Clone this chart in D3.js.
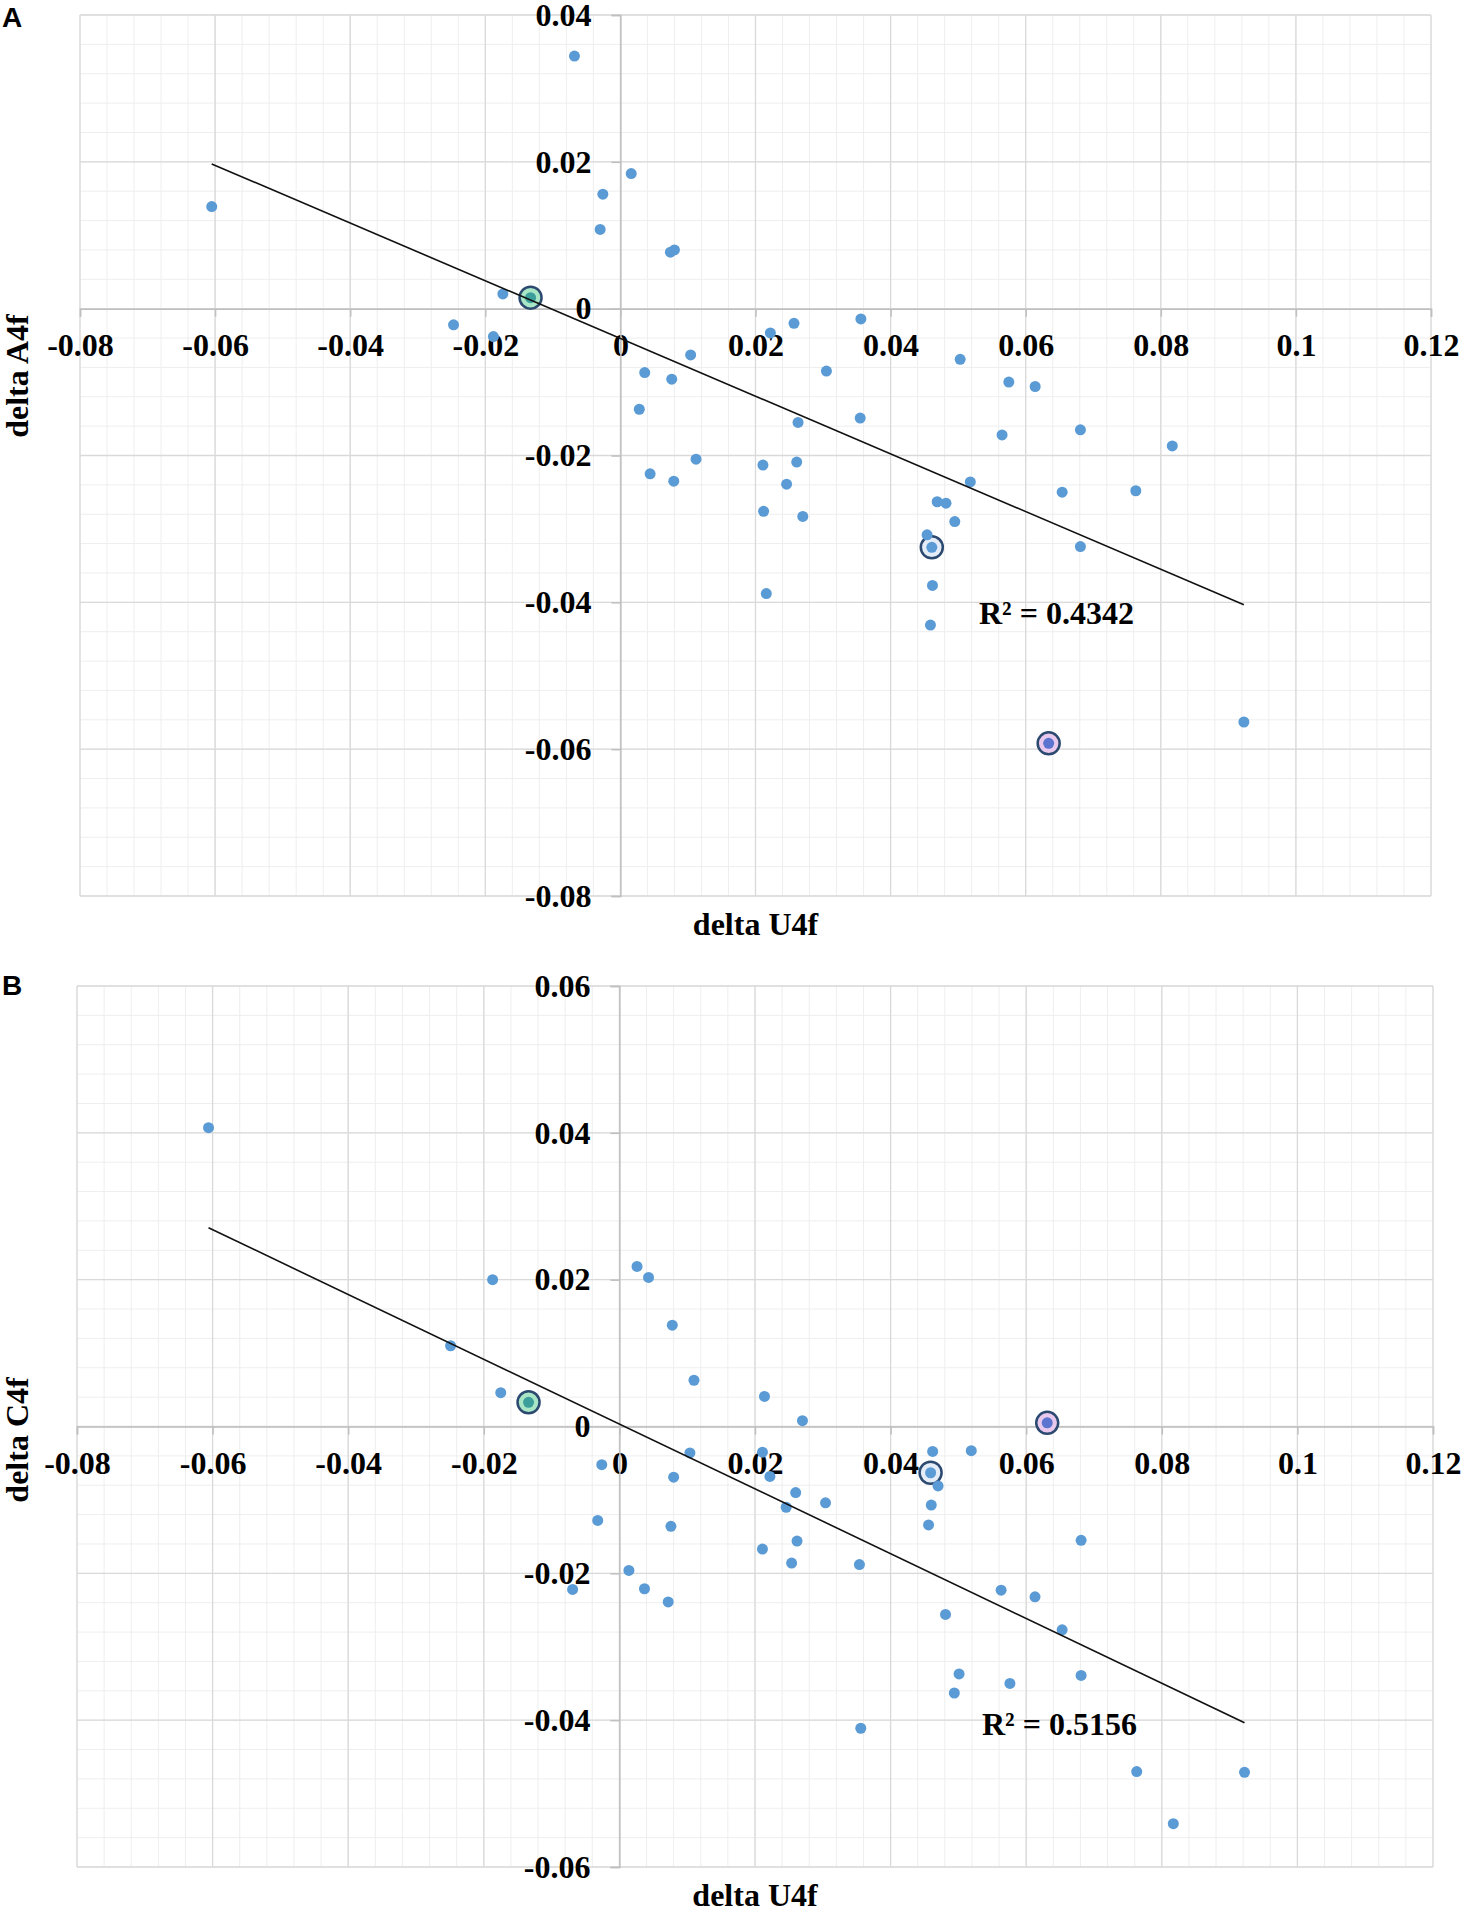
<!DOCTYPE html>
<html>
<head>
<meta charset="utf-8">
<script src="https://cdn.jsdelivr.net/npm/d3@7"></script>
<style>
    body { margin: 0; background: #fff; }
    svg { display: block; }
</style>
</head>
<body>
<div id="chart"></div>
<script>
// panel A: delta U4f vs delta A4f
const u4fA = [-0.0605, -0.0247, -0.0188, -0.0174, -0.0133, -0.0068, 0.0016, -0.0026, -0.0030, 0.0074,
    0.0080, 0.0222, 0.0257, 0.0356, 0.0104, 0.0036, 0.0076, 0.0305, 0.0503, 0.0575,
    0.0614, 0.0028, 0.0044, 0.0079, 0.0112, 0.0263, 0.0355, 0.0211, 0.0261, 0.0246,
    0.0212, 0.0270, 0.0216, 0.0565, 0.0681, 0.0817, 0.0518, 0.0654, 0.0763, 0.0469,
    0.0482, 0.0495, 0.0454, 0.0461, 0.0681, 0.0462, 0.0459, 0.0634, 0.0923];
const a4f = [0.0139, -0.0022, -0.0038, 0.0020, 0.0015, 0.0344, 0.0184, 0.0156, 0.0108, 0.0077,
    0.0080, -0.0033, -0.0020, -0.0014, -0.0063, -0.0087, -0.0096, -0.0085, -0.0069, -0.0100,
    -0.0106, -0.0137, -0.0225, -0.0235, -0.0205, -0.0155, -0.0149, -0.0213, -0.0209, -0.0239,
    -0.0276, -0.0283, -0.0388, -0.0172, -0.0165, -0.0187, -0.0236, -0.0250, -0.0248, -0.0263,
    -0.0265, -0.0290, -0.0308, -0.0325, -0.0324, -0.0377, -0.0431, -0.0592, -0.0563];

// panel B: delta U4f vs delta C4f
const u4fB = [-0.0606, -0.0187, -0.0249, -0.0175, -0.0134, 0.0026, 0.0043, 0.0078, 0.0110, 0.0214,
    0.0270, 0.0631, -0.0026, 0.0080, 0.0104, -0.0032, 0.0076, 0.0014, -0.0069, 0.0037,
    0.0072, 0.0211, 0.0222, 0.0260, 0.0304, 0.0246, 0.0262, 0.0211, 0.0254, 0.0354,
    0.0462, 0.0519, 0.0459, 0.0470, 0.0460, 0.0456, 0.0681, 0.0563, 0.0613, 0.0481,
    0.0653, 0.0501, 0.0576, 0.0681, 0.0494, 0.0356, 0.0763, 0.0922, 0.0817];
const c4f = [0.0407, 0.0200, 0.0110, 0.0046, 0.0033, 0.0218, 0.0203, 0.0138, 0.0063, 0.0041,
    0.0008, 0.0005, -0.0052, -0.0069, -0.0036, -0.0128, -0.0136, -0.0196, -0.0222, -0.0221,
    -0.0239, -0.0035, -0.0068, -0.0090, -0.0104, -0.0110, -0.0156, -0.0167, -0.0186, -0.0188,
    -0.0034, -0.0033, -0.0063, -0.0081, -0.0107, -0.0134, -0.0155, -0.0223, -0.0232, -0.0256,
    -0.0277, -0.0337, -0.0350, -0.0339, -0.0363, -0.0411, -0.0470, -0.0471, -0.0541];

// circled samples: green, blue, pink
const highlightA = [4, 43, 47];
const highlightB = [4, 32, 11];
const ringFill = ['#a9e6c6', '#e4ecf8', '#e8c8ec'];
const ringDot = ['#3c9f9c', '#5b9bd5', '#5a74cf'];

const xTickValues = [-0.08, -0.06, -0.04, -0.02, 0, 0.02, 0.04, 0.06, 0.08, 0.1, 0.12];
const yTicksA = [-0.08, -0.06, -0.04, -0.02, 0, 0.02, 0.04];
const yTicksB = [-0.06, -0.04, -0.02, 0, 0.02, 0.04, 0.06];
const r2Labels = ['R² = 0.4342', 'R² = 0.5156'];

const W = 1464, H = 1913;
const SERIF = "'Liberation Serif', 'Times New Roman', serif";

const svg = d3.select('#chart').append('svg')
    .attr('width', W)
    .attr('height', H);

function fmt(d) {
    return d === 0 ? '0' : String(+d.toFixed(2));
}

function minorTicks(lo, hi, step) {
    let n = Math.round((hi - lo) / step);
    return d3.range(n + 1).map(i => +(lo + i * step).toFixed(4));
}

function regression(xs, ys) {
    let mx = d3.mean(xs), my = d3.mean(ys);
    let sxy = d3.sum(xs, (d, i) => (d - mx) * (ys[i] - my));
    let sxx = d3.sum(xs, d => (d - mx) * (d - mx));
    let slope = sxy / sxx;
    return { slope: slope, intercept: my - slope * mx };
}

function drawPanel(cfg) {
    let x = d3.scaleLinear().domain([-0.08, 0.12]).range([cfg.left, cfg.right]);
    let y = d3.scaleLinear().domain(cfg.yDomain).range([cfg.bottom, cfg.top]);
    let g = svg.append('g');

    // minor grid
    g.append('g').selectAll('line.mx')
        .data(minorTicks(-0.08, 0.12, 0.004))
        .enter().append('line')
        .attr('x1', d => x(d)).attr('x2', d => x(d))
        .attr('y1', cfg.top).attr('y2', cfg.bottom)
        .attr('stroke', '#eeeeee').attr('stroke-width', 1);
    g.append('g').selectAll('line.my')
        .data(minorTicks(cfg.yDomain[0], cfg.yDomain[1], 0.004))
        .enter().append('line')
        .attr('y1', d => y(d)).attr('y2', d => y(d))
        .attr('x1', cfg.left).attr('x2', cfg.right)
        .attr('stroke', '#eeeeee').attr('stroke-width', 1);

    // major grid
    g.append('g').selectAll('line')
        .data(xTickValues)
        .enter().append('line')
        .attr('x1', d => x(d)).attr('x2', d => x(d))
        .attr('y1', cfg.top).attr('y2', cfg.bottom)
        .attr('stroke', '#d9d9d9').attr('stroke-width', 1.3);
    g.append('g').selectAll('line')
        .data(cfg.yTicks)
        .enter().append('line')
        .attr('y1', d => y(d)).attr('y2', d => y(d))
        .attr('x1', cfg.left).attr('x2', cfg.right)
        .attr('stroke', '#d9d9d9').attr('stroke-width', 1.3);

    // axes through zero
    let xAxis = g.append('g')
        .attr('transform', `translate(0,${y(0)})`)
        .call(d3.axisBottom(x).tickValues(xTickValues).tickFormat(fmt).tickSize(8).tickPadding(17));
    let yAxis = g.append('g')
        .attr('transform', `translate(${x(0)},0)`)
        .call(d3.axisLeft(y).tickValues(cfg.yTicks).tickFormat(fmt).tickSize(9).tickPadding(20));
    [xAxis, yAxis].forEach(a => {
        a.select('.domain').attr('stroke', '#bfbfbf').attr('stroke-width', 1.5);
        a.selectAll('.tick line').attr('stroke', '#bfbfbf').attr('stroke-width', 1.5);
        a.selectAll('.tick text')
            .attr('fill', '#000')
            .style('font-family', SERIF)
            .style('font-weight', 'bold')
            .style('font-size', '32px');
    });

    let pts = cfg.xs.map((d, i) => ({ x: d, y: cfg.ys[i], i: i }));

    // rings behind circled samples
    g.append('g').selectAll('circle')
        .data(cfg.highlight)
        .enter().append('circle')
        .attr('cx', d => x(cfg.xs[d]))
        .attr('cy', d => y(cfg.ys[d]))
        .attr('r', 11)
        .attr('fill', (d, k) => ringFill[k])
        .attr('stroke', '#2c4a70')
        .attr('stroke-width', 2.5);

    g.append('g').selectAll('circle')
        .data(pts)
        .enter().append('circle')
        .attr('cx', d => x(d.x))
        .attr('cy', d => y(d.y))
        .attr('r', 5.5)
        .attr('fill', d => {
            let k = cfg.highlight.indexOf(d.i);
            return k < 0 ? '#5b9bd5' : ringDot[k];
        });

    // linear trend line across the data range
    let fit = regression(cfg.xs, cfg.ys);
    let ext = d3.extent(cfg.xs);
    g.append('line')
        .attr('x1', x(ext[0])).attr('y1', y(fit.intercept + fit.slope * ext[0]))
        .attr('x2', x(ext[1])).attr('y2', y(fit.intercept + fit.slope * ext[1]))
        .attr('stroke', '#111').attr('stroke-width', 1.6);

    g.append('text')
        .attr('x', cfg.r2x).attr('y', cfg.r2y)
        .style('font-family', SERIF).style('font-weight', 'bold').style('font-size', '32px')
        .text(cfg.r2);

    // axis titles
    g.append('text')
        .attr('x', (cfg.left + cfg.right) / 2).attr('y', cfg.xTitleY)
        .attr('text-anchor', 'middle')
        .style('font-family', SERIF).style('font-weight', 'bold').style('font-size', '32px')
        .text('delta U4f');
    g.append('text')
        .attr('transform', `translate(28,${cfg.yTitleY}) rotate(-90)`)
        .attr('text-anchor', 'middle')
        .style('font-family', SERIF).style('font-weight', 'bold').style('font-size', '32px')
        .text(cfg.yTitle);

    g.append('text')
        .attr('x', 2).attr('y', cfg.letterY)
        .style('font-family', "'Liberation Sans', Arial, sans-serif")
        .style('font-weight', 'bold').style('font-size', '28px')
        .text(cfg.letter);
}

drawPanel({
    letter: 'A', letterY: 27,
    xs: u4fA, ys: a4f, highlight: highlightA,
    yDomain: [-0.08, 0.04], yTicks: yTicksA,
    left: 80, right: 1431, top: 15, bottom: 896,
    r2: r2Labels[0], r2x: 979, r2y: 624,
    xTitleY: 935, yTitle: 'delta A4f', yTitleY: 376
});

drawPanel({
    letter: 'B', letterY: 995,
    xs: u4fB, ys: c4f, highlight: highlightB,
    yDomain: [-0.06, 0.06], yTicks: yTicksB,
    left: 77, right: 1433, top: 986, bottom: 1867,
    r2: r2Labels[1], r2x: 982, r2y: 1735,
    xTitleY: 1906, yTitle: 'delta C4f', yTitleY: 1440
});
</script>
</body>
</html>
